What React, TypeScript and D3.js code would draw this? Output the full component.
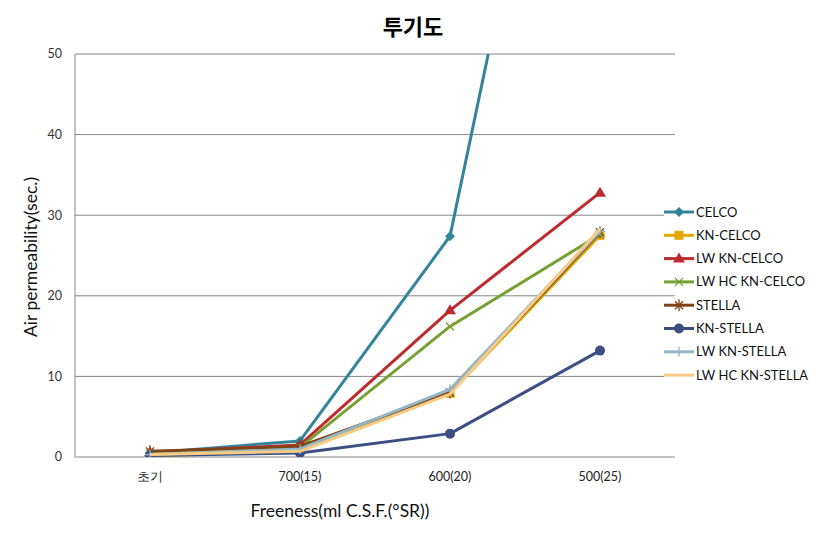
import React from 'react'
import * as d3 from 'd3'

const categories = ['초기', '700(15)', '600(20)', '500(25)']
const yTicks = [0, 10, 20, 30, 40, 50]

const celco = [0.5, 2.0, 27.4, 116]
const knCelco = [0.1, 0.8, 7.9, 27.5]
const lwKnCelco = [0.6, 1.5, 18.2, 32.8]
const lwHcKnCelco = [0.5, 1.2, 16.2, 27.6]
const stella = [0.7, 1.3, 8.0, 27.9]
const knStella = [0.2, 0.5, 2.9, 13.2]
const lwKnStella = [0.3, 1.0, 8.4, 28.0]
const lwHcKnStella = [0.3, 0.7, 7.8, 28.3]

const series = [
    { name: 'CELCO', values: celco, color: '#31849b', marker: 'diamond' },
    { name: 'KN-CELCO', values: knCelco, color: '#e0a800', marker: 'square' },
    { name: 'LW KN-CELCO', values: lwKnCelco, color: '#be2b2f', marker: 'triangle' },
    { name: 'LW HC KN-CELCO', values: lwHcKnCelco, color: '#77a032', marker: 'x' },
    { name: 'STELLA', values: stella, color: '#7f4316', marker: 'star' },
    { name: 'KN-STELLA', values: knStella, color: '#3d4f82', marker: 'circle' },
    { name: 'LW KN-STELLA', values: lwKnStella, color: '#93b6c6', marker: 'plus' },
    { name: 'LW HC KN-STELLA', values: lwHcKnStella, color: '#f8cb84', marker: 'none' },
]

const WIDTH = 827
const HEIGHT = 543
const margin = { top: 54, left: 75, right: 152, bottom: 86 }
const FONT = 'Lato, "DejaVu Sans", sans-serif'

const Marker = ({ type, x, y, color }) => {
    switch (type) {
        case 'diamond':
            return <path d={`M${x},${y - 5}L${x + 5},${y}L${x},${y + 5}L${x - 5},${y}Z`} fill={color} />
        case 'square':
            return <rect x={x - 4.5} y={y - 4.5} width={9} height={9} fill={color} />
        case 'triangle':
            return <path d={`M${x},${y - 6}L${x + 6},${y + 4}L${x - 6},${y + 4}Z`} fill={color} />
        case 'x':
            return <path d={`M${x - 4},${y - 4}L${x + 4},${y + 4}M${x - 4},${y + 4}L${x + 4},${y - 4}`} stroke={color} strokeWidth={1.3} />
        case 'star':
            return <path d={`M${x - 4},${y - 4}L${x + 4},${y + 4}M${x - 4},${y + 4}L${x + 4},${y - 4}M${x},${y - 6}L${x},${y + 6}`} stroke={color} strokeWidth={1.3} />
        case 'circle':
            return <circle cx={x} cy={y} r={5} fill={color} />
        case 'plus':
            return <path d={`M${x - 5},${y}L${x + 5},${y}M${x},${y - 5}L${x},${y + 5}`} stroke={color} strokeWidth={1.3} />
        default:
            return null
    }
}

const App = () => {
    const chartWidth = WIDTH - margin.left - margin.right
    const chartHeight = HEIGHT - margin.top - margin.bottom

    // x축
    const xScale = d3.scaleBand().domain(categories).range([0, chartWidth])
    const bw = xScale.bandwidth()
    // y축
    const yScale = d3.scaleLinear().domain([0, 50]).range([chartHeight, 0])

    const line = d3
        .line<number>()
        .x((d, i) => xScale(categories[i]) + bw / 2)
        .y(d => yScale(d))

    return (
        <svg width={WIDTH} height={HEIGHT} style={{ position: 'absolute', left: 0, top: 0 }} fontFamily={FONT}>
            <rect width={WIDTH} height={HEIGHT} fill="#fff" />
            <text x={413} y={35} textAnchor="middle" fontSize={22} fontWeight="bold" fontFamily='"Noto Sans CJK KR", sans-serif'>
                투기도
            </text>
            <defs>
                <clipPath id="plot-clip">
                    <rect x={0} y={0} width={chartWidth} height={chartHeight} />
                </clipPath>
            </defs>
            <g transform={`translate(${margin.left},${margin.top})`}>
                {/* grid + y ticks */}
                {yTicks.map(t => (
                    <g key={t}>
                        <line x1={0} x2={chartWidth} y1={yScale(t)} y2={yScale(t)} stroke="#868686" />
                        <text x={-13} y={yScale(t)} dy="0.35em" textAnchor="end" fontSize={12.5} fill="#333">
                            {t}
                        </text>
                    </g>
                ))}
                <line x1={0} x2={0} y1={0} y2={chartHeight} stroke="#868686" />
                {categories.map(c => (
                    <text key={c} x={xScale(c) + bw / 2} y={chartHeight + 24} textAnchor="middle" fontSize={12.5} fill="#222">
                        {c}
                    </text>
                ))}

                {/* data */}
                <g clipPath="url(#plot-clip)">
                    {series.map(s => (
                        <g key={s.name}>
                            <path d={line(s.values)} fill="none" stroke={s.color} strokeWidth={3} strokeLinejoin="round" />
                            {s.values.map((v, i) => (
                                <Marker key={i} type={s.marker} x={xScale(categories[i]) + bw / 2} y={yScale(v)} color={s.color} />
                            ))}
                        </g>
                    ))}
                </g>
            </g>

            {/* axis titles */}
            <text transform={`translate(37,257) rotate(-90)`} textAnchor="middle" fontSize={17.5} fill="#111">
                Air permeability(sec.)
            </text>
            <text x={340} y={517} textAnchor="middle" fontSize={17.5} fill="#111">
                Freeness(ml C.S.F.(°SR))
            </text>

            {/* legend */}
            {series.map((s, i) => {
                const y = 212 + i * 23.3
                return (
                    <g key={s.name}>
                        <rect x={664} y={y - 4} width={30} height={8} fill="#fff" />
                        <line x1={664} x2={694} y1={y} y2={y} stroke={s.color} strokeWidth={3} />
                        <Marker type={s.marker} x={679} y={y} color={s.color} />
                        <text x={696} y={y} dy="0.35em" fontSize={13} fill="#111">
                            {s.name}
                        </text>
                    </g>
                )
            })}
        </svg>
    )
}

export default App
